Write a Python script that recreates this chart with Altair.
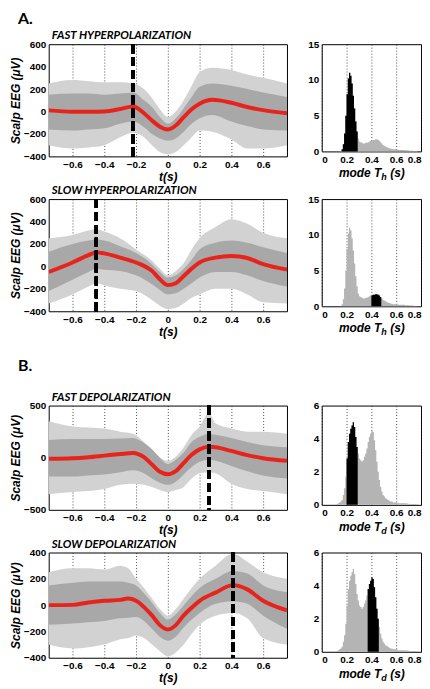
import altair as alt
import pandas as pd
import numpy as np

# ---------------- data ----------------
XTICKS = [-0.6, -0.4, -0.2, 0, 0.2, 0.4, 0.6]

# A1: fast hyperpolarization
A1_t = [-0.75, -0.6, -0.5, -0.4, -0.3, -0.22, -0.15, -0.1, -0.05, 0, 0.05, 0.1, 0.15, 0.2, 0.28, 0.4, 0.5, 0.6, 0.75]
A1_mean = [10, -2, -2, 0, 22, 45, -15, -80, -135, -160, -125, -50, 20, 70, 105, 78, 40, 12, -15]
A1_hi = [250, 280, 270, 260, 260, 250, 200, 120, 20, -50, 0, 100, 230, 350, 390, 370, 330, 300, 250]
A1_lo = [-300, -330, -320, -300, -230, -190, -230, -300, -360, -380, -360, -300, -230, -170, -180, -250, -330, -330, -300]
A1_chi = [150, 160, 160, 150, 160, 170, 100, 40, -50, -110, -60, 30, 130, 220, 250, 230, 200, 170, 130]
A1_clo = [-160, -170, -160, -150, -110, -90, -140, -200, -240, -260, -240, -180, -110, -60, -30, -90, -130, -160, -170]

# A2: slow hyperpolarization
A2_t = [-0.75, -0.6, -0.5, -0.45, -0.4, -0.3, -0.2, -0.1, -0.05, 0, 0.05, 0.1, 0.15, 0.2, 0.3, 0.4, 0.5, 0.6, 0.75]
A2_mean = [-50, 35, 100, 125, 116, 78, 35, -40, -115, -167, -150, -85, -20, 35, 78, 93, 75, 20, -28]
A2_hi = [250, 280, 320, 330, 310, 250, 150, 50, -20, -80, -40, 30, 150, 250, 350, 420, 380, 300, 250]
A2_lo = [-330, -250, -180, -150, -170, -200, -220, -300, -350, -380, -370, -330, -280, -250, -200, -200, -250, -320, -330]
A2_chi = [130, 200, 230, 240, 230, 180, 120, 20, -50, -100, -80, -20, 60, 150, 210, 230, 210, 170, 120]
A2_clo = [-220, -120, -50, -20, -30, -40, -80, -160, -210, -250, -240, -200, -150, -100, -50, -50, -80, -130, -180]

# B1: fast depolarization
B1_t = [-0.75, -0.6, -0.5, -0.4, -0.3, -0.22, -0.15, -0.1, -0.05, 0, 0.05, 0.1, 0.15, 0.2, 0.26, 0.3, 0.4, 0.5, 0.6, 0.75]
B1_mean = [-10, -5, 5, 20, 35, 45, 5, -65, -135, -158, -128, -50, 28, 80, 105, 100, 65, 25, -5, -30]
B1_hi = [350, 300, 290, 280, 250, 230, 150, 60, 0, -30, 10, 100, 220, 300, 430, 330, 280, 250, 250, 230]
B1_lo = [-350, -330, -320, -300, -260, -250, -260, -280, -310, -330, -310, -280, -200, -150, -140, -150, -250, -300, -320, -350]
B1_chi = [170, 180, 180, 180, 185, 190, 140, 80, 0, -60, -20, 50, 150, 200, 230, 220, 190, 150, 120, 100]
B1_clo = [-180, -180, -170, -160, -140, -120, -150, -200, -240, -260, -230, -160, -90, -40, -20, -30, -80, -130, -170, -200]

# B2: slow depolarization
B2_t = [-0.75, -0.6, -0.5, -0.4, -0.3, -0.25, -0.2, -0.15, -0.1, -0.05, 0, 0.05, 0.1, 0.15, 0.2, 0.3, 0.41, 0.5, 0.6, 0.75]
B2_mean = [0, 2, 20, 33, 40, 50, 33, -15, -78, -152, -185, -152, -78, -20, 33, 95, 152, 120, 33, -40]
B2_hi = [250, 280, 280, 270, 300, 280, 200, 130, 50, -30, -80, -30, 50, 130, 200, 300, 390, 330, 250, 200]
B2_lo = [-300, -330, -320, -300, -260, -250, -230, -250, -300, -350, -390, -360, -300, -220, -150, -80, -60, -100, -250, -300]
B2_chi = [150, 170, 180, 180, 180, 170, 150, 90, 20, -60, -110, -70, 0, 70, 130, 200, 260, 240, 150, 100]
B2_clo = [-150, -140, -130, -120, -100, -95, -90, -120, -180, -240, -270, -240, -170, -110, -60, 10, 30, 10, -80, -180]

# histogram bins (left edges, 0.10 ... 0.79, width 0.01)
BIN_T = [round(0.10 + 0.01 * i, 2) for i in range(70)]
H_COUNTS = [0, 0, 0, 0, 0,
            0.05, 0.3, 1.0, 2.5, 5.0,
            8.0, 10.2, 11.0, 10.6, 9.5,
            7.8, 6.0, 4.2, 2.8, 1.8,
            1.4, 1.3, 1.2, 1.1, 1.1,
            1.2, 1.2, 1.3, 1.4, 1.5,
            1.5, 1.6, 1.6, 1.7, 1.7,
            1.6, 1.5, 1.3, 1.1, 0.9,
            0.8, 0.7, 0.6, 0.5, 0.45,
            0.4, 0.35, 0.3, 0.3, 0.3,
            0.25, 0.25, 0.2, 0.2, 0.2,
            0.2, 0.2, 0.15, 0.15, 0.15,
            0.1, 0.1, 0.1, 0.1, 0.05,
            0.05, 0.05, 0, 0, 0]
D_COUNTS = [0, 0.02, 0.05, 0.1, 0.15,
            0.2, 0.3, 0.6, 1.0, 1.7,
            2.8, 3.8, 4.3, 4.6, 4.8,
            5.0, 4.7, 4.1, 3.5, 3.1,
            2.8, 2.7, 2.6, 2.7, 2.9,
            3.1, 3.4, 3.8, 4.1, 4.3,
            4.5, 4.4, 3.9, 3.3, 2.6,
            2.0, 1.5, 1.1, 0.8, 0.6,
            0.5, 0.4, 0.35, 0.3, 0.25,
            0.2, 0.2, 0.15, 0.15, 0.15,
            0.15, 0.1, 0.1, 0.1, 0.1,
            0.1, 0.1, 0.1, 0.08, 0.08,
            0.05, 0.05, 0.05, 0.05, 0.05,
            0.05, 0.03, 0.02, 0, 0]

# selected (black) ranges of the histograms
A1_SEL = (0.16, 0.29)
A2_SEL = (0.40, 0.48)
B1_SEL = (0.20, 0.29)
B2_SEL = (0.37, 0.46)

LABEL_FONT = "Liberation Sans"
TITLE_FONT = "Lato"
GREY_OUT = "#d2d2d2"
GREY_CORE = "#a8a8a8"
RED = "#e8231b"

ONE = pd.DataFrame({"a": [0]})


def text_layer(txt, x, y, size, weight="bold", style="normal", font=TITLE_FONT, align="left"):
    return alt.Chart(ONE).mark_text(
        font=font, fontWeight=weight, fontStyle=style, fontSize=size, align=align,
        baseline="alphabetic", color="black"
    ).encode(x=alt.value(x), y=alt.value(y), text=alt.value(txt))


def eeg_panel(t, mean, hi, lo, chi, clo, ydom, yticks, dash_t, title, h,
              letter=None, letter_y=-22):
    df = pd.DataFrame({"t": t, "mean": mean, "hi": hi, "lo": lo, "chi": chi, "clo": clo})
    xs = alt.Scale(domain=[-0.75, 0.75], nice=False, zero=False)
    ys = alt.Scale(domain=ydom, nice=False, zero=False)
    xax = alt.Axis(values=XTICKS, tickCount=len(XTICKS), format="~g", grid=True, gridDash=[1, 2],
                   gridColor="#222222", gridWidth=0.8, title="t(s)", labelOverlap=False,
                   titleFontStyle="italic", titleFontSize=12, titlePadding=2)
    yax = alt.Axis(values=yticks, tickCount=len(yticks), format="d", grid=False,
                   title="Scalp EEG (μV)", labelOverlap=False,
                   titleFontStyle="italic", titleFontSize=12, titlePadding=1)
    base = alt.Chart(df)
    outer = base.mark_area(color=GREY_OUT, interpolate="monotone", clip=True).encode(
        x=alt.X("t:Q", scale=xs, axis=xax),
        y=alt.Y("hi:Q", scale=ys, axis=yax),
        y2="lo:Q",
    )
    core = base.mark_area(color=GREY_CORE, interpolate="monotone", clip=True).encode(
        x="t:Q", y="chi:Q", y2="clo:Q"
    )
    red = base.mark_line(color=RED, strokeWidth=4, interpolate="monotone", clip=True).encode(
        x="t:Q", y="mean:Q"
    )
    dash = base.mark_rule(color="black", strokeWidth=3, strokeDash=[9, 4]).encode(
        x=alt.datum(dash_t)
    )
    layers = [outer, core, red, dash,
              text_layer(title, 3, -5, 11.5, style="italic")]
    if letter:
        layers.append(text_layer(letter, -31, letter_y, 16))
    return alt.layer(*layers).properties(width=240, height=h)


def hist_panel(counts, sel, ymax, yticks, h, sub):
    bins = BIN_T + [0.80]
    vals = counts + [0]
    black = [v if (sel[0] - 0.001) <= b < (sel[1] - 0.001) else 0 for b, v in zip(bins, vals)]
    df = pd.DataFrame({"b": bins, "n": vals, "k": black})
    xs = alt.Scale(domain=[0, 0.8], nice=False, zero=False)
    ys = alt.Scale(domain=[0, ymax], nice=False)
    xvals = [0, 0.2, 0.4, 0.6, 0.8]
    xax = alt.Axis(values=xvals, tickCount=len(xvals), format="~g", grid=True, gridDash=[1, 2],
                   gridColor="#222222", gridWidth=0.8, title=None, labelOverlap=False)
    yax = alt.Axis(values=yticks, tickCount=len(yticks), format="d", grid=False, title=None,
                   labelOverlap=False)
    base = alt.Chart(df)
    grey = base.mark_area(color="#b4b4b4", interpolate="step-after").encode(
        x=alt.X("b:Q", scale=xs, axis=xax), y=alt.Y("n:Q", scale=ys, axis=yax)
    )
    blk = base.mark_area(color="black", interpolate="step-after").encode(x="b:Q", y="k:Q")
    t1 = text_layer("mode T", 60, h + 26, 12, style="italic", font=LABEL_FONT, align="right")
    t2 = text_layer(sub, 60, h + 29, 9, style="italic", font=LABEL_FONT)
    t3 = text_layer("(s)", 69, h + 26, 12, style="italic", font=LABEL_FONT)
    return alt.layer(grey, blk, t1, t2, t3).properties(width=100, height=h)


def spacer(w):
    return alt.Chart(ONE).mark_point(opacity=0).encode(
        x=alt.value(0), y=alt.value(0)
    ).properties(width=w, height=9, view=alt.ViewBackground(stroke="transparent"))


a1 = eeg_panel(A1_t, A1_mean, A1_hi, A1_lo, A1_chi, A1_clo, [-400, 600],
               [-400, -200, 0, 200, 400, 600], -0.22, "FAST HYPERPOLARIZATION", 113,
               letter="A.", letter_y=-20)
a1h = hist_panel(H_COUNTS, A1_SEL, 15, [0, 5, 10, 15], 108, "h")
a2 = eeg_panel(A2_t, A2_mean, A2_hi, A2_lo, A2_chi, A2_clo, [-400, 600],
               [-400, -200, 0, 200, 400, 600], -0.45, "SLOW HYPERPOLARIZATION", 113)
a2h = hist_panel(H_COUNTS, A2_SEL, 15, [0, 5, 10, 15], 108, "h")
b1 = eeg_panel(B1_t, B1_mean, B1_hi, B1_lo, B1_chi, B1_clo, [-500, 500],
               [-500, 0, 500], 0.26, "FAST DEPOLARIZATION", 105,
               letter="B.", letter_y=-35)
b1h = hist_panel(D_COUNTS, B1_SEL, 6, [0, 2, 4, 6], 100, "d")
b2 = eeg_panel(B2_t, B2_mean, B2_hi, B2_lo, B2_chi, B2_clo, [-400, 400],
               [-400, -200, 0, 200, 400], 0.41, "SLOW DEPOLARIZATION", 106)
b2h = hist_panel(D_COUNTS, B2_SEL, 6, [0, 2, 4, 6], 100, "d")

chart = alt.concat(
    a1, a1h, a2, a2h, spacer(240), spacer(100), b1, b1h, b2, b2h,
    columns=2, spacing={"row": 43, "column": 35}, bounds="flush", align="each",
).properties(
    padding={"left": 0, "top": 0, "right": 0, "bottom": 0}
).configure_view(
    stroke="black", strokeWidth=1
).configure_axis(
    labelFont=LABEL_FONT, labelFontWeight="bold", labelFontSize=10, labelColor="black",
    titleFont=LABEL_FONT, titleFontWeight="bold", titleColor="black",
    ticks=False, domain=False, labelPadding=3,
)

chart.save("out.html", embed_options={"renderer": "svg", "actions": False})
